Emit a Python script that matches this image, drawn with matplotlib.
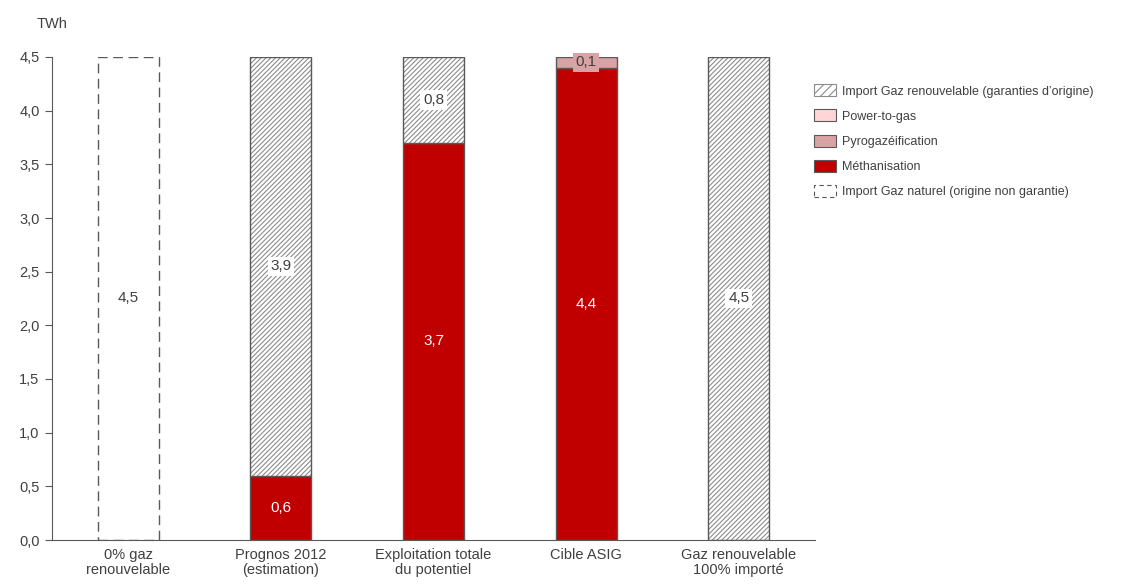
import matplotlib
matplotlib.use('Agg')  # noqa
import matplotlib.pyplot as plt
from matplotlib.patches import Patch
from matplotlib.ticker import FuncFormatter, MultipleLocator

plt.rcParams['font.family'] = ['Liberation Sans', 'DejaVu Sans']
plt.rcParams['hatch.linewidth'] = 0.8

categories = ['0% gaz\nrenouvelable', 'Prognos 2012\n(estimation)',
              'Exploitation totale\ndu potentiel', 'Cible ASIG',
              'Gaz renouvelable\n100% importé']

methanisation = [0.0, 0.6, 3.7, 4.4, 0.0]
pyrogazeification = [0.0, 0.0, 0.0, 0.1, 0.0]
power_to_gas = [0.0, 0.0, 0.0, 0.0, 0.0]
import_renouvelable = [0.0, 3.9, 0.8, 0.0, 4.5]
import_naturel = [4.5, 0.0, 0.0, 0.0, 0.0]

RED = '#C00000'
PYRO = '#D9A2A4'
P2G = '#FFD5D5'
EDGE = '#595959'
TXT = '#404040'
HATCH = '#8c8c8c'
LBL = 11


def fmt(v):
    return ('%.1f' % v).replace('.', ',')


fig = plt.figure(figsize=(11.26, 5.86), dpi=100)
ax = fig.add_axes([52 / 1126, 1 - 540 / 586, 763 / 1126, 483 / 586])

x = range(len(categories))
w = 0.40
bottom = [0.0] * len(categories)

series = [
    (methanisation, dict(color=RED, edgecolor=EDGE), 'white', None),
    (pyrogazeification, dict(color=PYRO, edgecolor=EDGE), TXT, PYRO),
    (power_to_gas, dict(color=P2G, edgecolor=EDGE), TXT, P2G),
]

for vals, style, tcol, box in series:
    for i in x:
        v = vals[i]
        if v <= 0:
            continue
        ax.bar(i, v, w, bottom=bottom[i], linewidth=1, **style, zorder=2)
        bb = dict(facecolor=box, edgecolor='none', pad=2) if box else None
        ax.text(i, bottom[i] + v / 2, fmt(v), ha='center', va='center',
                color=tcol, fontsize=LBL, bbox=bb, zorder=4)
        bottom[i] += v

# hatched import of renewable gas
for i in x:
    v = import_renouvelable[i]
    if v <= 0:
        continue
    ax.bar(i, v, w, bottom=bottom[i], color='white', edgecolor=HATCH,
           hatch='/' * 7, linewidth=0, zorder=2)
    ax.bar(i, v, w, bottom=bottom[i], fill=False, edgecolor=EDGE,
           linewidth=1, zorder=3)
    ax.text(i, bottom[i] + v / 2, fmt(v), ha='center', va='center',
            color=TXT, fontsize=LBL, zorder=4,
            bbox=dict(facecolor='white', edgecolor='none', pad=2))
    bottom[i] += v

# natural gas import, dashed outline
for i in x:
    v = import_naturel[i]
    if v <= 0:
        continue
    ax.bar(i, v, w, bottom=bottom[i], fill=False, edgecolor=EDGE,
           linewidth=1, linestyle=(0, (7, 4)), zorder=3)
    ax.text(i, bottom[i] + v / 2, fmt(v), ha='center', va='center',
            color=TXT, fontsize=LBL, zorder=4)
    bottom[i] += v

ax.set_xlim(-0.5, len(categories) - 0.5)
ax.set_ylim(0, 4.5)
ax.yaxis.set_major_locator(MultipleLocator(0.5))
ax.yaxis.set_major_formatter(FuncFormatter(lambda v, p: fmt(v)))
ax.set_xticks(list(x))
ax.set_xticklabels(categories, fontsize=10.5, color=TXT, linespacing=1.1)
ax.tick_params(axis='x', length=0, pad=6)
ax.tick_params(axis='y', length=5, color=EDGE, labelsize=10.5,
               labelcolor=TXT, pad=4)
ax.spines['top'].set_visible(False)
ax.spines['right'].set_visible(False)
ax.spines['left'].set_color(EDGE)
ax.spines['bottom'].set_color(EDGE)

fig.text(52 / 1126, 1 - 24 / 586, 'TWh', ha='center', va='center',
         fontsize=10.5, color=TXT)

handles = [
    Patch(facecolor='white', edgecolor=HATCH, hatch='/' * 4,
          linewidth=0.8, label='Import Gaz renouvelable (garanties d\u2019origine)'),
    Patch(facecolor=P2G, edgecolor=EDGE, linewidth=0.8, label='Power-to-gas'),
    Patch(facecolor=PYRO, edgecolor=EDGE, linewidth=0.8, label='Pyrogazéification'),
    Patch(facecolor=RED, edgecolor=EDGE, linewidth=0.8, label='Méthanisation'),
    Patch(facecolor='white', edgecolor=EDGE, linewidth=0.8, linestyle=(0, (4, 3)),
          label='Import Gaz naturel (origine non garantie)'),
]
fig.legend(handles=handles, loc='upper left',
           bbox_to_anchor=(808 / 1126, 1 - 78 / 586), frameon=False,
           fontsize=9, labelspacing=0.95, handlelength=1.7, handleheight=1.1,
           handletextpad=0.5, borderpad=0, labelcolor=TXT)

plt.savefig('out.png', dpi=100)
